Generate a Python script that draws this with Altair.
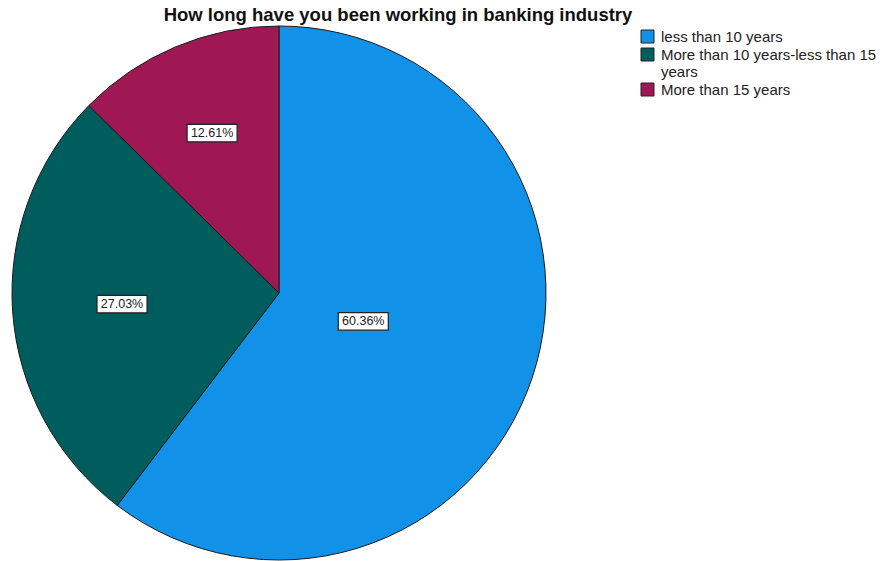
import altair as alt
import pandas as pd

categories = ["less than 10 years", "More than 10 years-less than 15 years", "More than 15 years"]
percents = [60.36, 27.03, 12.61]
labels = ["60.36%", "27.03%", "12.61%"]
order = [0, 1, 2]
colors = ["#1192e8", "#005d5d", "#9f1853"]

df = pd.DataFrame({"category": categories, "pct": percents, "label": labels, "order": order})

base = alt.Chart(df)

color = alt.Color(
    "category:N",
    scale=alt.Scale(domain=categories, range=colors),
    legend=alt.Legend(
        title=None, orient="none", legendX=628, legendY=3,
        symbolType="square", symbolSize=169, symbolStrokeColor="#222222",
        symbolStrokeWidth=1, symbolOpacity=1,
        labelFont="Liberation Sans", labelFontSize=15, labelColor="#222222",
        labelLimit=400, labelOffset=6, rowPadding=1,
        labelExpr="datum.label == 'More than 10 years-less than 15 years' ? ['More than 10 years-less than 15', 'years'] : datum.label",
    ),
)

pie = base.mark_arc(outerRadius=267, stroke="#1a1a1a", strokeWidth=1).encode(
    theta=alt.Theta("pct:Q", stack=True),
    color=color,
    order=alt.Order("order:Q"),
)

pos = base.transform_joinaggregate(total="sum(pct)").transform_window(
    cum="sum(pct)", sort=[alt.SortField("order")], frame=[None, 0]
).transform_calculate(
    a="2*PI*datum.pct/datum.total",
    mid="2*PI*(datum.cum - datum.pct/2)/datum.total",
).transform_calculate(
    rf="4*sin(datum.a/2)/(3*datum.a)",
).transform_calculate(
    px="datum.rf*sin(datum.mid)",
    py="datum.rf*cos(datum.mid)",
)

xs = alt.X("px:Q", scale=alt.Scale(domain=[-1, 1], nice=False, zero=False), axis=None)
ys = alt.Y("py:Q", scale=alt.Scale(domain=[-1, 1], nice=False, zero=False), axis=None)

box = pos.mark_point(
    shape="M-1,-0.35H1V0.35H-1Z", size=2500, filled=True, fill="white",
    stroke="#222222", strokeWidth=1.2, opacity=1,
).encode(x=xs, y=ys)

text = pos.mark_text(font="Liberation Sans", fontSize=12.5, color="#222222").encode(
    x=xs, y=ys, text="label:N"
)

chart = alt.layer(pie, box, text).properties(
    width=534, height=534,
    padding={"left": 12, "top": 26, "right": 334, "bottom": 1},
    autosize="none",
    background="white",
    title=alt.TitleParams(
        "How long have you been working in banking industry",
        font="Liberation Sans", fontSize=18.5, fontWeight="bold", color="#111111",
        anchor="middle", dx=119, offset=0, limit=800,
    ),
).configure_view(stroke=None)

chart.save("out.html", embed_options={"renderer": "svg", "actions": False})
